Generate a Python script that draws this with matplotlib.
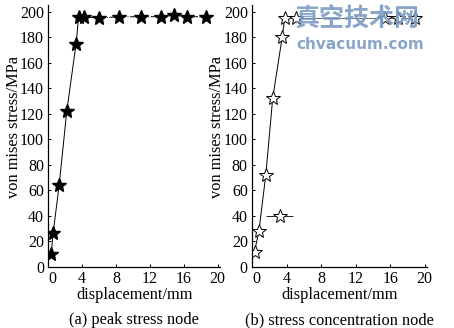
import matplotlib
matplotlib.use("Agg")
import matplotlib.pyplot as plt

plt.rcParams['font.family'] = ['Liberation Serif', 'DejaVu Serif']

# (a) peak stress node
disp_a = [0.35, 0.6, 1.3, 2.2, 3.3, 3.6, 4.2, 6.0, 8.4, 11.0, 13.3, 14.9, 16.4, 18.6]
stress_a = [10, 27, 64, 122, 175, 196, 196, 195, 196, 196, 196, 197, 196, 196]

# (b) stress concentration node
disp_b = [0.3, 0.8, 1.6, 2.4, 3.5, 3.8, 5.1, 15.4, 16.9, 18.9]
stress_b = [12, 28, 72, 132, 180, 195, 195, 195, 195, 195]
outlier_x, outlier_y, outlier_span = 3.2, 40, 1.55

xticks = [0, 4, 8, 12, 16, 20]
yticks = [0, 20, 40, 60, 80, 100, 120, 140, 160, 180, 200]

TICK_FS = 11.5
LABEL_FS = 11.8

fig = plt.figure(figsize=(4.54, 3.28), dpi=100)
ax_a = fig.add_axes([0.106, 0.186, 0.379, 0.798])
ax_b = fig.add_axes([0.555, 0.186, 0.386, 0.798])

rise = 6
ax_a.plot(disp_a[:rise], stress_a[:rise], color='black', lw=0.7)
ax_a.plot(disp_a[rise - 1:], stress_a[rise - 1:], color='black', lw=0.7, ls='-.')
ax_a.plot(disp_a, stress_a, ls='none', marker='*', ms=10, mfc='black', mec='black')

ax_b.plot(disp_b[:rise], stress_b[:rise], color='black', lw=0.7)
ax_b.plot(disp_b[rise - 1:], stress_b[rise - 1:], color='#555555', lw=0.6)
ax_b.plot(disp_b, stress_b, ls='none', marker='*', ms=10, mfc='white', mec='black', mew=0.7)
ax_b.errorbar([outlier_x], [outlier_y], xerr=[outlier_span], fmt='*', ms=10,
              mfc='white', mec='black', mew=0.7, ecolor='black', elinewidth=0.6, capsize=0)

for ax, cap in [(ax_a, '(a) peak stress node'), (ax_b, '(b) stress concentration node')]:
    ax.set_xlim(0, 20.3)
    ax.set_ylim(0, 205)
    ax.set_xticks(xticks)
    ax.set_yticks(yticks)
    ax.spines['top'].set_visible(False)
    ax.spines['right'].set_visible(False)
    ax.spines['left'].set_linewidth(0.9)
    ax.spines['bottom'].set_linewidth(0.9)
    ax.tick_params(direction='in', length=2.5, width=0.7, labelsize=TICK_FS, pad=3)
    ax.set_xlabel('displacement/mm', fontsize=LABEL_FS)
    ax.xaxis.set_label_coords(0.5, -0.075)
    ax.text(-0.2, 0.535, 'von mises stress/MPa', transform=ax.transAxes, rotation=90,
            ha='center', va='center', fontsize=LABEL_FS)
    ax.text(0.5, -0.173, cap, transform=ax.transAxes, ha='center', va='top', fontsize=LABEL_FS)
    for lbl in ax.get_xticklabels():
        if lbl.get_text() == '0':
            lbl.set_horizontalalignment('left')

# site watermark
fig.text(0.787, 0.94, '真空技术网', color='#7c9cc4', fontsize=18, fontweight='bold',
         family=['Noto Sans CJK SC', 'DejaVu Sans'], ha='center', va='center', alpha=0.9)
fig.text(0.793, 0.863, 'chvacuum.com', color='#7c9cc4', fontsize=11, fontweight='bold',
         family=['DejaVu Sans'], ha='center', va='center', alpha=0.9)

fig.savefig('out.png', dpi=100)
